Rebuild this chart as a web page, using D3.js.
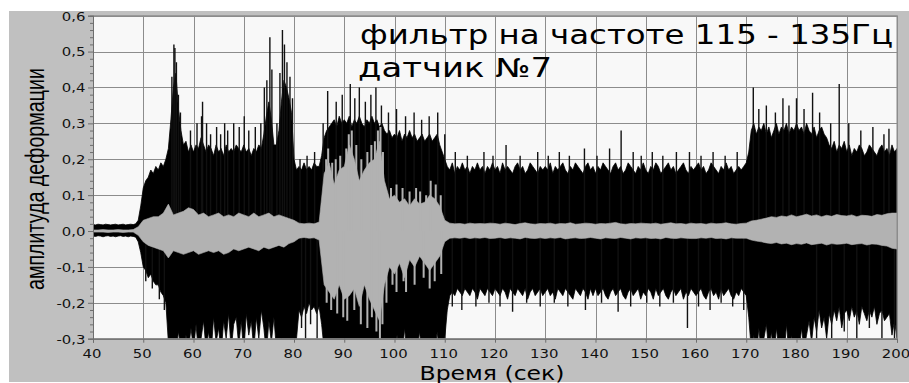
<!DOCTYPE html>
<html>
<head>
<meta charset="utf-8">
<script src="https://cdn.jsdelivr.net/npm/d3@7"></script>
<style>
  body { margin: 0; background: #fff; }
  svg { display: block; }
</style>
</head>
<body>
<svg id="chart" width="909" height="383"></svg>
<script>
// Axis ticks
const xTicks = [40, 50, 60, 70, 80, 90, 100, 110, 120, 130, 140, 150, 160, 170, 180, 190, 200];
const yTicks = [-0.3, -0.2, -0.1, 0.0, 0.1, 0.2, 0.3, 0.4, 0.5, 0.6];

// Strain envelope, sampled every 0.5 s from 40 s to 200 s (outer, black trace)
const blackStep = 0.5;
const blackUpper = [
  0.018,0.017,0.019,0.018,0.017,0.019,0.018,0.017,0.018,0.019,0.017,0.018,0.019,0.017,0.018,0.019,0.018,0.02,0.03,0.07,
  0.12,0.14,0.15,0.17,0.16,0.18,0.17,0.19,0.18,0.2,0.23,0.31,0.4,0.44,0.34,0.28,0.24,0.25,0.22,0.24,
  0.22,0.24,0.23,0.26,0.24,0.22,0.24,0.23,0.21,0.24,0.22,0.23,0.21,0.24,0.22,0.23,0.22,0.24,0.23,0.22,
  0.24,0.22,0.23,0.21,0.23,0.22,0.24,0.23,0.27,0.32,0.36,0.31,0.24,0.24,0.28,0.36,0.42,0.4,0.37,0.33,
  0.2,0.17,0.18,0.17,0.19,0.17,0.18,0.17,0.19,0.18,0.18,0.21,0.26,0.28,0.29,0.3,0.31,0.29,0.32,0.3,
  0.31,0.3,0.32,0.29,0.31,0.3,0.32,0.3,0.29,0.31,0.3,0.32,0.3,0.31,0.29,0.3,0.28,0.27,0.28,0.26,
  0.27,0.26,0.28,0.25,0.27,0.26,0.28,0.26,0.27,0.25,0.26,0.27,0.25,0.26,0.27,0.25,0.26,0.27,0.24,0.22,
  0.2,0.18,0.17,0.19,0.16,0.18,0.17,0.19,0.17,0.18,0.16,0.18,0.17,0.19,0.17,0.18,0.16,0.18,0.17,0.19,
  0.17,0.18,0.16,0.19,0.17,0.18,0.17,0.16,0.18,0.19,0.17,0.18,0.16,0.17,0.19,0.18,0.17,0.16,0.18,0.17,
  0.18,0.17,0.19,0.16,0.18,0.17,0.18,0.19,0.17,0.16,0.18,0.17,0.19,0.18,0.17,0.16,0.18,0.19,0.17,0.18,
  0.16,0.18,0.17,0.19,0.18,0.17,0.16,0.18,0.19,0.17,0.18,0.16,0.17,0.19,0.18,0.17,0.16,0.18,0.17,0.19,
  0.17,0.16,0.18,0.17,0.19,0.18,0.16,0.17,0.18,0.19,0.17,0.18,0.16,0.17,0.18,0.19,0.17,0.16,0.18,0.17,
  0.18,0.19,0.17,0.18,0.16,0.17,0.19,0.18,0.17,0.16,0.18,0.17,0.19,0.17,0.18,0.16,0.17,0.18,0.17,0.18,
  0.19,0.22,0.28,0.3,0.27,0.29,0.28,0.3,0.27,0.29,0.26,0.28,0.3,0.27,0.29,0.28,0.3,0.27,0.29,0.28,
  0.3,0.28,0.29,0.27,0.3,0.28,0.27,0.29,0.26,0.28,0.29,0.27,0.26,0.24,0.23,0.25,0.22,0.24,0.23,0.25,
  0.22,0.24,0.21,0.23,0.22,0.24,0.23,0.21,0.22,0.24,0.23,0.22,0.21,0.23,0.24,0.22,0.23,0.21,0.24,0.22,
  0.23
];
const blackLower = [
  -0.014,-0.015,-0.013,-0.014,-0.016,-0.014,-0.013,-0.015,-0.014,-0.016,-0.014,-0.013,-0.015,-0.014,-0.016,-0.014,-0.015,-0.017,-0.03,-0.06,
  -0.1,-0.11,-0.13,-0.12,-0.14,-0.15,-0.15,-0.17,-0.18,-0.2,-0.31,-0.34,-0.3,-0.34,-0.28,-0.33,-0.34,-0.29,-0.33,-0.27,
  -0.33,-0.26,-0.34,-0.3,-0.25,-0.33,-0.28,-0.34,-0.24,-0.31,-0.27,-0.34,-0.25,-0.3,-0.23,-0.33,-0.26,-0.24,-0.32,-0.25,
  -0.34,-0.23,-0.29,-0.25,-0.33,-0.24,-0.3,-0.22,-0.27,-0.34,-0.25,-0.31,-0.24,-0.33,-0.34,-0.3,-0.35,-0.34,-0.33,-0.35,
  -0.34,-0.3,-0.22,-0.24,-0.21,-0.23,-0.2,-0.22,-0.21,-0.23,-0.21,-0.26,-0.33,-0.35,-0.34,-0.36,-0.33,-0.35,-0.34,-0.36,
  -0.35,-0.34,-0.36,-0.33,-0.35,-0.34,-0.36,-0.35,-0.33,-0.34,-0.36,-0.35,-0.34,-0.33,-0.35,-0.36,-0.34,-0.35,-0.33,-0.34,
  -0.35,-0.29,-0.34,-0.36,-0.27,-0.34,-0.35,-0.3,-0.34,-0.33,-0.28,-0.35,-0.34,-0.31,-0.35,-0.33,-0.34,-0.28,-0.35,-0.33,
  -0.3,-0.22,-0.18,-0.17,-0.18,-0.16,-0.17,-0.18,-0.16,-0.17,-0.18,-0.16,-0.17,-0.19,-0.16,-0.17,-0.18,-0.16,-0.17,-0.18,
  -0.16,-0.17,-0.18,-0.16,-0.17,-0.19,-0.16,-0.17,-0.18,-0.16,-0.17,-0.18,-0.16,-0.19,-0.17,-0.16,-0.18,-0.17,-0.16,-0.18,
  -0.17,-0.16,-0.18,-0.17,-0.19,-0.16,-0.17,-0.18,-0.16,-0.17,-0.18,-0.19,-0.16,-0.17,-0.18,-0.16,-0.17,-0.19,-0.16,-0.18,
  -0.16,-0.18,-0.17,-0.16,-0.18,-0.19,-0.17,-0.16,-0.18,-0.17,-0.16,-0.18,-0.19,-0.17,-0.16,-0.18,-0.17,-0.16,-0.19,-0.17,
  -0.18,-0.16,-0.17,-0.19,-0.16,-0.18,-0.17,-0.16,-0.18,-0.19,-0.17,-0.16,-0.18,-0.17,-0.16,-0.19,-0.17,-0.18,-0.16,-0.17,
  -0.18,-0.17,-0.16,-0.18,-0.19,-0.17,-0.16,-0.18,-0.17,-0.19,-0.16,-0.18,-0.17,-0.16,-0.18,-0.19,-0.17,-0.18,-0.16,-0.17,
  -0.18,-0.24,-0.33,-0.29,-0.35,-0.27,-0.34,-0.3,-0.26,-0.34,-0.28,-0.35,-0.27,-0.33,-0.3,-0.35,-0.26,-0.34,-0.29,-0.35,
  -0.31,-0.34,-0.27,-0.33,-0.29,-0.25,-0.31,-0.24,-0.28,-0.22,-0.27,-0.24,-0.3,-0.23,-0.26,-0.22,-0.25,-0.21,-0.27,-0.23,
  -0.22,-0.25,-0.21,-0.24,-0.22,-0.26,-0.21,-0.23,-0.25,-0.22,-0.24,-0.21,-0.26,-0.23,-0.22,-0.25,-0.24,-0.23,-0.29,-0.25,
  -0.3
];

// Isolated peaks of the outer trace: [time s, amplitude]
const upperPeaks = [
  [55.7,0.43],[56.1,0.52],[56.3,0.51],[56.6,0.47],[57.0,0.38],[57.4,0.33],
  [59.4,0.28],[60.7,0.3],[61.6,0.32],[61.8,0.36],[62.6,0.3],[63.4,0.27],[64.6,0.29],[65.4,0.27],
  [66.2,0.3],[66.8,0.28],[68.0,0.3],[69.1,0.29],[70.1,0.32],[71.0,0.28],[72.3,0.29],[73.4,0.3],
  [74.1,0.4],[74.6,0.42],[75.2,0.54],[75.6,0.45],[76.6,0.3],[77.2,0.44],[77.7,0.56],[78.1,0.52],
  [78.6,0.47],[79.2,0.43],[79.7,0.37],
  [81.2,0.2],[82.6,0.21],[84.1,0.22],
  [85.8,0.3],[86.7,0.39],[88.4,0.36],[89.6,0.38],[91.2,0.41],[92.1,0.37],[93.0,0.4],[94.2,0.36],
  [95.3,0.38],[96.3,0.4],[97.4,0.35],[98.8,0.33],[100.4,0.34],[102.2,0.32],[103.9,0.33],[105.4,0.31],
  [106.9,0.32],[108.6,0.33],[110.0,0.27],
  [112.1,0.22],[114.5,0.21],[117.8,0.22],[119.6,0.21],[122.2,0.24],[125.0,0.21],[128.5,0.22],
  [130.6,0.21],[132.8,0.22],[134.8,0.21],[137.8,0.23],[140.3,0.21],[142.8,0.23],[145.1,0.28],
  [147.5,0.22],[149.1,0.21],[151.3,0.22],[153.4,0.21],[156.1,0.22],[158.7,0.22],[161.0,0.21],
  [163.4,0.22],[165.8,0.21],[168.2,0.22],
  [171.4,0.4],[172.5,0.34],[174.0,0.35],[175.8,0.33],[177.3,0.37],[178.5,0.35],[180.0,0.37],
  [181.5,0.34],[183.2,0.385],[184.6,0.33],[186.8,0.3],[188.5,0.41],[190.4,0.3],[192.8,0.28],
  [195.2,0.29],[197.4,0.27],[198.4,0.285]
];
const lowerPeaks = [
  [50.5,-0.14],[51.8,-0.16],[53.2,-0.19],[54.2,-0.22],
  [81.5,-0.27],[82.3,-0.3],[83.3,-0.26],[84.6,-0.3],
  [111.5,-0.21],[113.4,-0.22],[116.2,-0.21],[118.8,-0.2],[121.0,-0.21],[123.5,-0.225],[126.3,-0.2],
  [129.0,-0.21],[131.8,-0.2],[134.5,-0.21],[138.0,-0.22],[141.2,-0.2],[144.5,-0.225],[147.0,-0.21],
  [150.2,-0.2],[152.8,-0.21],[155.5,-0.2],[158.3,-0.27],[160.5,-0.21],[162.8,-0.22],[165.0,-0.2],
  [167.3,-0.21],[169.5,-0.22],
  [184.0,-0.3],[187.0,-0.3],[189.5,-0.28],[192.0,-0.3],[194.5,-0.27],[197.0,-0.3],[199.5,-0.31]
];

// Filtered component (inner, grey trace), sampled every 1 s from 40 s to 200 s
const grayStep = 1;
const grayUpper = [
  0.003,0.003,0.004,0.003,0.003,0.004,0.003,0.003,0.004,0.012,
  0.03,0.035,0.04,0.04,0.05,0.075,0.045,0.05,0.055,0.065,
  0.06,0.045,0.05,0.04,0.045,0.05,0.04,0.045,0.04,0.05,
  0.045,0.04,0.05,0.04,0.045,0.05,0.04,0.045,0.04,0.035,
  0.03,0.022,0.02,0.022,0.02,0.025,0.16,0.19,0.13,0.17,
  0.18,0.24,0.2,0.14,0.17,0.19,0.2,0.25,0.14,0.09,
  0.1,0.08,0.09,0.07,0.09,0.075,0.08,0.1,0.09,0.07,
  0.03,0.022,0.02,0.021,0.019,0.022,0.02,0.021,0.02,0.022,
  0.021,0.019,0.022,0.02,0.018,0.021,0.023,0.02,0.019,0.021,
  0.02,0.022,0.019,0.021,0.02,0.023,0.019,0.02,0.022,0.021,
  0.019,0.021,0.02,0.022,0.024,0.02,0.019,0.021,0.02,0.022,
  0.021,0.02,0.022,0.019,0.021,0.023,0.02,0.021,0.019,0.022,
  0.02,0.021,0.019,0.022,0.02,0.021,0.023,0.02,0.019,0.021,
  0.022,0.028,0.03,0.033,0.036,0.04,0.038,0.042,0.04,0.045,
  0.04,0.043,0.047,0.042,0.045,0.04,0.044,0.041,0.046,0.043,
  0.042,0.045,0.04,0.044,0.043,0.041,0.046,0.044,0.048,0.05,
  0.05
];
const grayLower = [
  -0.003,-0.003,-0.003,-0.004,-0.003,-0.003,-0.004,-0.003,-0.003,-0.012,
  -0.03,-0.04,-0.045,-0.05,-0.055,-0.075,-0.055,-0.06,-0.065,-0.06,
  -0.055,-0.065,-0.06,-0.055,-0.06,-0.055,-0.065,-0.06,-0.05,-0.055,
  -0.05,-0.045,-0.05,-0.055,-0.045,-0.05,-0.045,-0.04,-0.045,-0.035,
  -0.03,-0.02,-0.018,-0.02,-0.019,-0.025,-0.15,-0.17,-0.19,-0.15,
  -0.19,-0.18,-0.16,-0.21,-0.15,-0.19,-0.22,-0.25,-0.15,-0.1,
  -0.12,-0.09,-0.13,-0.08,-0.1,-0.07,-0.09,-0.11,-0.09,-0.07,
  -0.03,-0.02,-0.019,-0.02,-0.018,-0.021,-0.019,-0.02,-0.018,-0.021,
  -0.02,-0.018,-0.021,-0.019,-0.02,-0.022,-0.018,-0.02,-0.021,-0.019,
  -0.021,-0.019,-0.02,-0.018,-0.022,-0.02,-0.019,-0.021,-0.02,-0.018,
  -0.02,-0.022,-0.019,-0.02,-0.021,-0.018,-0.02,-0.022,-0.019,-0.02,
  -0.019,-0.021,-0.02,-0.022,-0.018,-0.02,-0.021,-0.019,-0.02,-0.021,
  -0.021,-0.019,-0.02,-0.018,-0.021,-0.02,-0.022,-0.019,-0.02,-0.02,
  -0.02,-0.025,-0.028,-0.03,-0.033,-0.035,-0.032,-0.036,-0.034,-0.038,
  -0.035,-0.037,-0.033,-0.038,-0.036,-0.034,-0.039,-0.035,-0.037,-0.036,
  -0.034,-0.038,-0.036,-0.035,-0.039,-0.036,-0.037,-0.04,-0.042,-0.048,
  -0.05
];

// Isolated peaks of the grey trace during the 86–110 s burst: [time s, amplitude]
const grayUpperPeaks = [
  [86.4,0.2],[86.8,0.23],[87.6,0.19],[88.3,0.2],[89.2,0.21],[90.4,0.23],[90.9,0.27],[91.5,0.28],
  [92.4,0.24],[93.4,0.2],[94.6,0.22],[95.4,0.24],[96.1,0.25],[96.7,0.28],[97.2,0.29],[97.7,0.22],
  [99.3,0.12],[100.4,0.13],[101.6,0.12],[103.0,0.11],[104.3,0.12],[105.1,0.11],[106.3,0.1],
  [107.2,0.14],[108.2,0.13],[109.2,0.1]
];
const grayLowerPeaks = [
  [86.5,-0.2],[87.4,-0.22],[88.6,-0.23],[89.8,-0.24],[90.6,-0.25],[92.0,-0.22],[93.3,-0.26],
  [94.6,-0.27],[95.5,-0.24],[96.4,-0.28],[97.1,-0.3],[97.6,-0.26],[98.4,-0.2],[99.6,-0.15],
  [100.4,-0.17],[101.8,-0.14],[102.3,-0.17],[104.0,-0.15],[105.8,-0.13],[107.0,-0.16],
  [108.0,-0.14],[109.3,-0.12]
];

const titleLines = ["фильтр на частоте 115 - 135Гц", "датчик №7"];
const xLabel = "Время (сек)";
const yLabel = "амплитуда деформации";

// ---- layout ----
const W = 909, H = 383;
const plot = { left: 93, right: 897, top: 15.7, bottom: 338.7 };
const textStretch = 1.24;

const svg = d3.select("#chart");

const x = d3.scaleLinear().domain([40, 200]).range([plot.left, plot.right]);
const y = d3.scaleLinear().domain([-0.3, 0.6]).range([plot.bottom, plot.top]);

// window panel
svg.append("rect").attr("x", 9).attr("y", 11).attr("width", W - 9).attr("height", H - 12)
  .attr("fill", "#c0c0c0");
svg.append("rect").attr("x", plot.left).attr("y", plot.top)
  .attr("width", plot.right - plot.left).attr("height", plot.bottom - plot.top)
  .attr("fill", "#f8f8f8");

// grid
const grid = svg.append("g").attr("stroke", "#8c8c8c").attr("stroke-width", 1);
grid.selectAll("line.v").data(xTicks).join("line")
  .attr("x1", d => Math.round(x(d)) + 0.5).attr("x2", d => Math.round(x(d)) + 0.5)
  .attr("y1", plot.top).attr("y2", plot.bottom);
grid.selectAll("line.h").data(yTicks).join("line")
  .attr("y1", d => Math.round(y(d)) + 0.5).attr("y2", d => Math.round(y(d)) + 0.5)
  .attr("x1", plot.left).attr("x2", plot.right);

// clip for the traces
svg.append("clipPath").attr("id", "plotClip").append("rect")
  .attr("x", plot.left).attr("y", plot.top)
  .attr("width", plot.right - plot.left).attr("height", plot.bottom - plot.top);

const traces = svg.append("g").attr("clip-path", "url(#plotClip)");

const blackData = blackUpper.map((v, i) => ({ t: 40 + i * blackStep, hi: v, lo: blackLower[i] }));
const grayData = grayUpper.map((v, i) => ({ t: 40 + i * grayStep, hi: v, lo: grayLower[i] }));

const band = d3.area().x(d => x(d.t)).y0(d => y(d.lo)).y1(d => y(d.hi)).curve(d3.curveLinear);

function peakLines(g, data, colour, width) {
  g.append("g").selectAll("line").data(data).join("line")
    .attr("x1", d => x(d[0])).attr("x2", d => x(d[0]))
    .attr("y1", y(0)).attr("y2", d => y(d[1]))
    .attr("stroke", colour).attr("stroke-width", width);
}

traces.append("path").datum(blackData).attr("d", band)
  .attr("fill", "#000").attr("stroke", "#000").attr("stroke-width", 0.8);
peakLines(traces, upperPeaks, "#111", 1.4);
peakLines(traces, lowerPeaks, "#111", 1.4);

traces.append("path").datum(grayData).attr("d", band)
  .attr("fill", "#b2b2b2").attr("stroke", "#b2b2b2").attr("stroke-width", 0.6);
peakLines(traces, grayUpperPeaks, "#b2b2b2", 2);
peakLines(traces, grayLowerPeaks, "#b2b2b2", 2);

// plot frame
svg.append("rect").attr("x", plot.left + 0.5).attr("y", plot.top)
  .attr("width", plot.right - plot.left - 0.5).attr("height", plot.bottom - plot.top)
  .attr("fill", "none").attr("stroke", "#8c8c8c");

// axes
const fmt = d => d.toFixed(1).replace(".", ",").replace("-0,0", "0,0");

const yAxis = svg.append("g").attr("transform", `translate(${plot.left},0)`)
  .call(d3.axisLeft(y).tickValues(yTicks).tickFormat(fmt).tickSize(5).tickPadding(0));
const yMinor = svg.append("g").attr("transform", `translate(${plot.left},0)`)
  .call(d3.axisLeft(y).tickValues(d3.range(-0.28, 0.6, 0.02).filter(v => Math.abs(v * 10 - Math.round(v * 10)) > 0.01))
    .tickFormat("").tickSize(3));
const xAxis = svg.append("g").attr("transform", `translate(0,${plot.bottom})`)
  .call(d3.axisBottom(x).tickValues(xTicks).tickFormat(d3.format("d")).tickSize(4).tickPadding(0));

[yAxis, yMinor, xAxis].forEach(g => {
  g.select(".domain").attr("stroke", "#6e6e6e");
  g.selectAll(".tick line").attr("stroke", "#6e6e6e");
});

yAxis.selectAll(".tick text")
  .attr("x", null).attr("dy", null).attr("text-anchor", "end")
  .attr("transform", `translate(-7.5,4.3) scale(${textStretch},1)`)
  .attr("font-family", "DejaVu Sans, Verdana, sans-serif").attr("font-size", 12).attr("fill", "#111");
xAxis.selectAll(".tick text")
  .attr("y", null).attr("dy", null).attr("text-anchor", "middle")
  .attr("transform", `translate(-1.5,19) scale(${textStretch},1)`)
  .attr("font-family", "DejaVu Sans, Verdana, sans-serif").attr("font-size", 12).attr("fill", "#111");

// annotation
const title = svg.append("g").attr("font-family", "DejaVu Sans, Verdana, sans-serif")
  .attr("font-size", 26).attr("fill", "#000");
title.append("text").attr("x", 360).attr("y", 44)
  .attr("textLength", 533).attr("lengthAdjust", "spacingAndGlyphs").text(titleLines[0]);
title.append("text").attr("x", 358).attr("y", 76.5)
  .attr("textLength", 194).attr("lengthAdjust", "spacingAndGlyphs").text(titleLines[1]);

// axis titles
svg.append("text").attr("x", 492).attr("y", 379.5).attr("text-anchor", "middle")
  .attr("font-family", "DejaVu Sans, Verdana, sans-serif").attr("font-size", 19).attr("fill", "#000")
  .attr("textLength", 145).attr("lengthAdjust", "spacingAndGlyphs").text(xLabel);

svg.append("text")
  .attr("transform", `translate(43.5,179) rotate(-90)`)
  .attr("text-anchor", "middle")
  .attr("font-family", "Liberation Sans Narrow, Liberation Sans, Arial, sans-serif")
  .attr("font-size", 25).attr("fill", "#000")
  .attr("textLength", 222).attr("lengthAdjust", "spacingAndGlyphs").text(yLabel);
</script>
</body>
</html>
